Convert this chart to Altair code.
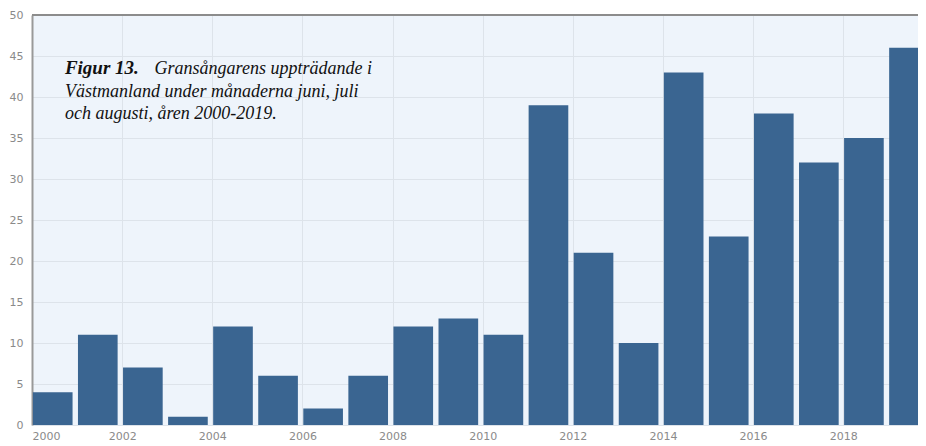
import altair as alt
import pandas as pd

years = list(range(2000, 2020))
counts = [4, 11, 7, 1, 12, 6, 2, 6, 12, 13, 11, 39, 21, 10, 43, 23, 38, 32, 35, 46]

caption_bold = "Figur 13."
caption_lines = [
    "Gransångarens uppträdande i",
    "Västmanland under månaderna juni, juli",
    "och augusti, åren 2000-2019.",
]

df = pd.DataFrame({"year": years, "count": counts})
df["start"] = df["year"] + 0.02
df["end"] = df["year"] + 0.9

xscale = alt.Scale(domain=[2000, 2019.66], nice=False, zero=False)
yscale = alt.Scale(domain=[0, 50], nice=False)

bars = alt.Chart(df).mark_bar(color="#3a6591", clip=True).encode(
    x=alt.X("start:Q", scale=xscale, title=None,
            axis=alt.Axis(values=list(range(2000, 2020, 2)), format="d",
                          labelColor="#8a8a8a", labelFont="DejaVu Sans", labelFontSize=11,
                          ticks=False, domain=False, gridColor="#dde3ea",
                          labelPadding=5)),
    x2="end:Q",
    y=alt.Y("count:Q", scale=yscale, title=None,
            axis=alt.Axis(values=list(range(0, 51, 5)), labelColor="#8a8a8a",
                          labelFont="DejaVu Sans", labelFontSize=11, ticks=False,
                          domainColor="#999999", domainWidth=2, gridColor="#dde3ea",
                          labelPadding=9)),
    y2=alt.datum(0),
)

top_df = pd.DataFrame({"y": [50]})
top_line = alt.Chart(top_df).mark_rule(color="#8c8c8c", strokeWidth=2).encode(
    y=alt.Y("y:Q", scale=yscale)
)

bold_df = pd.DataFrame({"x": [2000.73], "y": [42.8], "t": [caption_bold]})
bold_text = alt.Chart(bold_df).mark_text(
    font="Liberation Serif", fontSize=19, fontStyle="italic", fontWeight="bold",
    align="left", baseline="alphabetic", color="#111111"
).encode(x=alt.X("x:Q", scale=xscale), y=alt.Y("y:Q", scale=yscale), text="t:N")

cap_df = pd.DataFrame({
    "x": [2002.72, 2000.73, 2000.73],
    "y": [42.8, 40.05, 37.3],
    "t": caption_lines,
})
cap_text = alt.Chart(cap_df).mark_text(
    font="Liberation Serif", fontSize=18, fontStyle="italic",
    align="left", baseline="alphabetic", color="#111111"
).encode(x=alt.X("x:Q", scale=xscale), y=alt.Y("y:Q", scale=yscale), text="t:N")

chart = alt.layer(bars, top_line, bold_text, cap_text).properties(
    width=886, height=410,
    autosize=alt.AutoSizeParams(type="none"),
    padding={"left": 24, "top": 7, "right": 0, "bottom": 21},
    background="white",
).configure_view(fill="#eef4fb", stroke=None)

chart.save("out.html", embed_options={"renderer": "svg", "actions": False})
